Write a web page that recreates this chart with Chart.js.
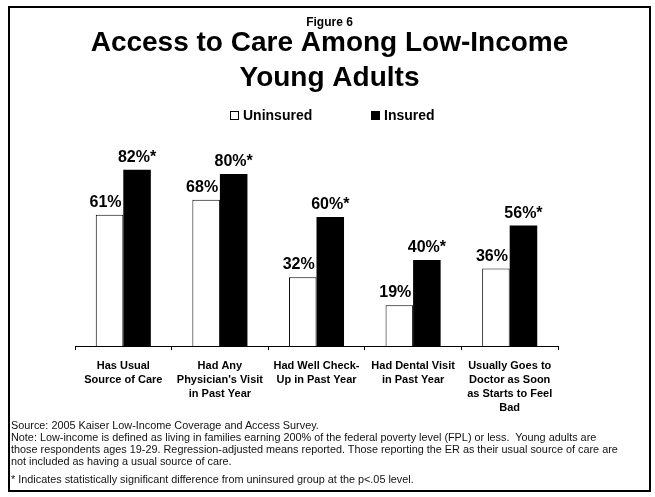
<!DOCTYPE html>
<html>
<head>
<meta charset="utf-8">
<script src="https://cdn.jsdelivr.net/npm/chart.js@4.4.1/dist/chart.umd.min.js"></script>
<style>
html,body{margin:0;padding:0;background:#fff;}
#wrap{position:relative;width:655px;height:497px;font-family:"Liberation Sans",Arial,Helvetica,sans-serif;color:#000;}
#c{position:absolute;left:0;top:0;}
.lg{position:absolute;top:108px;font-weight:bold;font-size:14px;line-height:14px;white-space:nowrap;}
.lgbox{position:absolute;width:9px;height:9px;box-sizing:border-box;border:1px solid #000;}
#notes{position:absolute;left:11px;top:419px;font-size:10.85px;line-height:12px;white-space:pre;color:#111;}
#notes .gap{margin-top:6px;}
</style>
</head>
<body>
<div id="wrap">
<canvas id="c" width="655" height="497"></canvas>
<div id="legend"></div>
<div id="notes"></div>
</div>
<script>
// ---- data ----
const categories = [
  ["Has Usual","Source of Care"],
  ["Had Any","Physician's Visit","in Past Year"],
  ["Had Well Check-","Up in Past Year"],
  ["Had Dental Visit","in Past Year"],
  ["Usually Goes to","Doctor as Soon","as Starts to Feel","Bad"]
];
const seriesNames = ["Uninsured","Insured"];
const uninsured = [61, 68, 32, 19, 36];
const insured = [82, 80, 60, 40, 56];
const significant = [true, true, true, true, true];
const figureLabel = "Figure 6";
const titleLines = ["Access to Care Among Low-Income","Young Adults"];
const noteLines = [
  "Source: 2005 Kaiser Low-Income Coverage and Access Survey.",
  "Note: Low-income is defined as living in families earning 200% of the federal poverty level (FPL) or less.  Young adults are",
  "those respondents ages 19-29. Regression-adjusted means reported. Those reporting the ER as their usual source of care are",
  "not included as having a usual source of care."
];
const footLine = "* Indicates statistically significant difference from uninsured group at the p<.05 level.";

const FONT = '"Liberation Sans", Arial, Helvetica, sans-serif';

// ---- HTML legend and notes ----
const legendDiv = document.getElementById('legend');
const legendPos = [{box:230, text:243}, {box:371, text:384}];
const legendFill = ['#fff', '#000'];
seriesNames.forEach((n, i) => {
  const b = document.createElement('div');
  b.className = 'lgbox';
  b.style.left = legendPos[i].box + 'px';
  b.style.top = '111px';
  b.style.background = legendFill[i];
  legendDiv.appendChild(b);
  const t = document.createElement('div');
  t.className = 'lg';
  t.style.left = legendPos[i].text + 'px';
  t.textContent = n;
  legendDiv.appendChild(t);
});
const notesDiv = document.getElementById('notes');
noteLines.forEach(l => {
  const d = document.createElement('div');
  d.textContent = l;
  notesDiv.appendChild(d);
});
const fd = document.createElement('div');
fd.className = 'gap';
fd.textContent = footLine;
notesDiv.appendChild(fd);

// ---- plugins ----
const frame = {
  id: 'frame',
  afterDraw(chart) {
    const ctx = chart.ctx;
    ctx.save();
    ctx.strokeStyle = '#000';
    ctx.lineWidth = 2;
    ctx.strokeRect(9, 7, 641, 484);
    ctx.restore();
  }
};
const valueLabels = {
  id: 'valueLabels',
  afterDatasetsDraw(chart) {
    const ctx = chart.ctx;
    ctx.save();
    ctx.font = 'bold 16px ' + FONT;
    ctx.fillStyle = '#000';
    ctx.textAlign = 'center';
    ctx.textBaseline = 'alphabetic';
    chart.data.datasets.forEach((ds, di) => {
      const meta = chart.getDatasetMeta(di);
      meta.data.forEach((bar, i) => {
        let txt = ds.data[i] + '%';
        if (di === 1 && significant[i]) txt += '*';
        const dx = di === 0 ? -4 : 0;
        ctx.fillText(txt, bar.x + dx, bar.y - 8);
      });
    });
    ctx.restore();
  }
};

const hiddenAxis = (pos, w) => ({
  display: true, position: pos, min: 0, max: 100,
  grid: { display: false }, border: { display: false },
  ticks: { display: false },
  afterFit: s => { s.width = w; }
});

new Chart(document.getElementById('c'), {
  type: 'bar',
  data: {
    labels: categories,
    datasets: [
      { label: seriesNames[0], data: uninsured, backgroundColor: '#fff', borderColor: '#000', borderWidth: 1, borderSkipped: 'start', yAxisID: 'y' },
      { label: seriesNames[1], data: insured, backgroundColor: '#000', borderColor: '#000', borderWidth: 0, yAxisID: 'y' }
    ]
  },
  options: {
    responsive: false,
    animation: false,
    devicePixelRatio: 1,
    categoryPercentage: 0.57,
    barPercentage: 1.0,
    layout: { padding: { left: 72, right: 68, top: 0, bottom: 73 } },
    plugins: {
      legend: { display: false },
      tooltip: { enabled: false },
      title: {
        display: true, text: figureLabel, color: '#000',
        font: { family: FONT, size: 12, weight: 'bold', lineHeight: 0.5 },
        padding: { top: 20, bottom: 0 }
      },
      subtitle: {
        display: true, text: titleLines, color: '#000',
        font: { family: FONT, size: 28, weight: 'bold', lineHeight: 1.25 },
        padding: { top: 0, bottom: 35 }
      }
    },
    scales: {
      y: hiddenAxis('left', 3),
      y2: hiddenAxis('right', 29),
      x: {
        offset: true,
        border: { display: true, color: '#000', width: 1 },
        grid: { display: true, offset: true, drawOnChartArea: false, drawTicks: true, tickLength: 4, color: '#000' },
        ticks: { color: '#000', font: { family: FONT, size: 11, weight: 'bold', lineHeight: 14/11 }, padding: 9, maxRotation: 0, autoSkip: false }
      }
    }
  },
  plugins: [frame, valueLabels]
});
</script>
</body>
</html>
